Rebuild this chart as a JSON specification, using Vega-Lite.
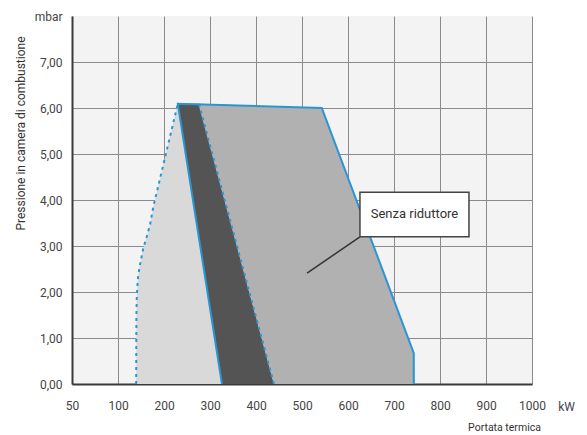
{
  "$schema": "https://vega.github.io/schema/vega-lite/v6.json",
  "width": 460,
  "height": 368,
  "autosize": {"type": "none"},
  "padding": {"left": 72, "top": 16, "right": 55, "bottom": 51},
  "background": "white",
  "config": {
    "view": {"fill": "#f3f3f3", "stroke": null},
    "font": "Liberation Sans Narrow, Roboto, sans-serif"
  },
  "datasets": {
    "light": [
      {"p": 0, "xl": 139.5, "xr": 326},
      {"p": 1.46, "xl": 140, "xr": 303},
      {"p": 1.83, "xl": 140.7, "xr": 297.2},
      {"p": 2.12, "xl": 142, "xr": 292.6},
      {"p": 2.37, "xl": 144.1, "xr": 288.6},
      {"p": 2.59, "xl": 147.8, "xr": 285.2},
      {"p": 2.95, "xl": 155, "xr": 279.5},
      {"p": 3.2, "xl": 162.4, "xr": 275.6},
      {"p": 3.46, "xl": 169.6, "xr": 271.5},
      {"p": 3.85, "xl": 176.7, "xr": 265.3},
      {"p": 6.09, "xl": 230, "xr": 230}
    ],
    "dark": [
      {"p": 0, "xl": 326, "xr": 439},
      {"p": 6.09, "xl": 230, "xr": 276}
    ],
    "medium": [
      {"p": 0, "xl": 439, "xr": 745},
      {"p": 0.67, "xl": 421, "xr": 743},
      {"p": 6.0, "xl": 277, "xr": 543},
      {"p": 6.09, "xl": 276, "xr": 277}
    ],
    "outline": [
      {"g": "solid", "o": 1, "kw": 326, "p": 0},
      {"g": "solid", "o": 2, "kw": 230, "p": 6.09},
      {"g": "solid", "o": 3, "kw": 543, "p": 6.0},
      {"g": "solid", "o": 4, "kw": 743, "p": 0.67},
      {"g": "solid", "o": 5, "kw": 743, "p": 0},
      {"g": "dotA", "o": 1, "kw": 139.5, "p": 0},
      {"g": "dotA", "o": 2, "kw": 140, "p": 1.46},
      {"g": "dotA", "o": 3, "kw": 140.7, "p": 1.83},
      {"g": "dotA", "o": 4, "kw": 142, "p": 2.12},
      {"g": "dotA", "o": 5, "kw": 144.1, "p": 2.37},
      {"g": "dotA", "o": 6, "kw": 147.8, "p": 2.59},
      {"g": "dotA", "o": 7, "kw": 155, "p": 2.95},
      {"g": "dotA", "o": 8, "kw": 162.4, "p": 3.2},
      {"g": "dotA", "o": 9, "kw": 169.6, "p": 3.46},
      {"g": "dotA", "o": 10, "kw": 176.7, "p": 3.85},
      {"g": "dotA", "o": 11, "kw": 230, "p": 6.09},
      {"g": "dotB", "o": 1, "kw": 439, "p": 0},
      {"g": "dotB", "o": 2, "kw": 276, "p": 6.09}
    ]
  },
  "layer": [
    {
      "data": {"name": "light"},
      "mark": {"type": "area", "orient": "horizontal", "color": "#d9d9d9", "opacity": 1},
      "encoding": {
        "y": {"field": "p", "type": "quantitative", "scale": {"domain": [0, 8], "nice": false},
          "axis": {
            "values": [0, 1, 2, 3, 4, 5, 6, 7, 8],
            "labelExpr": "datum.value == 8 ? 'mbar' : replace(format(datum.value, '.2f'), '.', ',')",
            "labelFontSize": 12, "labelColor": "#444", "labelPadding": 10,
            "labelFlush": false,
            "ticks": false,
            "domainColor": "#3a3a3a", "domainWidth": 2,
            "grid": true, "gridColor": "#8a8a8a", "gridWidth": 1,
            "gridOpacity": {"condition": {"test": "datum.value == 8", "value": 0}, "value": 1},
            "title": "Pressione in camera di combustione",
            "titleFontSize": 12, "titleFontWeight": "normal", "titleColor": "#333",
            "titleX": -52, "titleY": 117, "titleAngle": -90, "titleAlign": "center", "titleBaseline": "middle"
          }
        },
        "x": {"field": "xl", "type": "quantitative", "scale": {"domain": [0, 1000], "nice": false},
          "axis": {
            "values": [0, 100, 200, 300, 400, 500, 600, 700, 800, 900, 1000],
            "labelExpr": "datum.value == 0 ? '50' : '' + datum.value",
            "labelFontSize": 12, "labelColor": "#444", "labelPadding": 16,
            "labelFlush": false,
            "ticks": false,
            "domainColor": "#3a3a3a", "domainWidth": 2,
            "grid": true, "gridColor": "#8a8a8a", "gridWidth": 1,
            "title": "Portata termica",
            "titleFontSize": 10.5, "titleFontWeight": "normal", "titleColor": "#333",
            "titleX": 432, "titleY": 38, "titleAlign": "center", "titleBaseline": "top"
          }
        },
        "x2": {"field": "xr"}
      }
    },
    {
      "data": {"name": "dark"},
      "mark": {"type": "area", "orient": "horizontal", "color": "#545454", "opacity": 1},
      "encoding": {
        "y": {"field": "p", "type": "quantitative"},
        "x": {"field": "xl", "type": "quantitative"},
        "x2": {"field": "xr"}
      }
    },
    {
      "data": {"name": "medium"},
      "mark": {"type": "area", "orient": "horizontal", "color": "#b1b1b1", "opacity": 1},
      "encoding": {
        "y": {"field": "p", "type": "quantitative"},
        "x": {"field": "xl", "type": "quantitative"},
        "x2": {"field": "xr"}
      }
    },
    {
      "data": {"name": "outline"},
      "transform": [{"filter": "datum.g == 'solid'"}],
      "mark": {"type": "line", "color": "#2a95d3", "strokeWidth": 2, "strokeJoin": "miter"},
      "encoding": {
        "x": {"field": "kw", "type": "quantitative"},
        "y": {"field": "p", "type": "quantitative"},
        "order": {"field": "o"}
      }
    },
    {
      "data": {"name": "outline"},
      "transform": [{"filter": "datum.g != 'solid'"}],
      "mark": {"type": "line", "color": "#2a95d3", "strokeWidth": 2, "strokeDash": [3, 4]},
      "encoding": {
        "x": {"field": "kw", "type": "quantitative"},
        "y": {"field": "p", "type": "quantitative"},
        "detail": {"field": "g"},
        "order": {"field": "o"}
      }
    },
    {
      "data": {"values": [{"x1": 626, "y1": 3.2, "x2": 511, "y2": 2.41}]},
      "mark": {"type": "rule", "color": "#333", "strokeWidth": 1.5},
      "encoding": {
        "x": {"field": "x1", "type": "quantitative"},
        "y": {"field": "y1", "type": "quantitative"},
        "x2": {"field": "x2"},
        "y2": {"field": "y2"}
      }
    },
    {
      "data": {"values": [{"x1": 626, "x2": 863, "y1": 3.2, "y2": 4.17, "label": "Senza riduttore", "xc": 744.5, "yc": 3.685}]},
      "layer": [
        {
          "mark": {"type": "rect", "fill": "white", "stroke": "#444", "strokeWidth": 1.5},
          "encoding": {
            "x": {"field": "x1", "type": "quantitative"},
            "x2": {"field": "x2"},
            "y": {"field": "y1", "type": "quantitative"},
            "y2": {"field": "y2"}
          }
        },
        {
          "mark": {"type": "text", "fontSize": 13, "color": "#333", "align": "center", "baseline": "middle"},
          "encoding": {
            "x": {"field": "xc", "type": "quantitative"},
            "y": {"field": "yc", "type": "quantitative"},
            "text": {"field": "label"}
          }
        }
      ]
    },
    {
      "data": {"values": [{"x": 1075, "y": -0.5, "t": "kW"}]},
      "mark": {"type": "text", "fontSize": 12, "color": "#444", "align": "center", "baseline": "middle"},
      "encoding": {
        "x": {"field": "x", "type": "quantitative"},
        "y": {"field": "y", "type": "quantitative"},
        "text": {"field": "t"}
      }
    }
  ]
}
